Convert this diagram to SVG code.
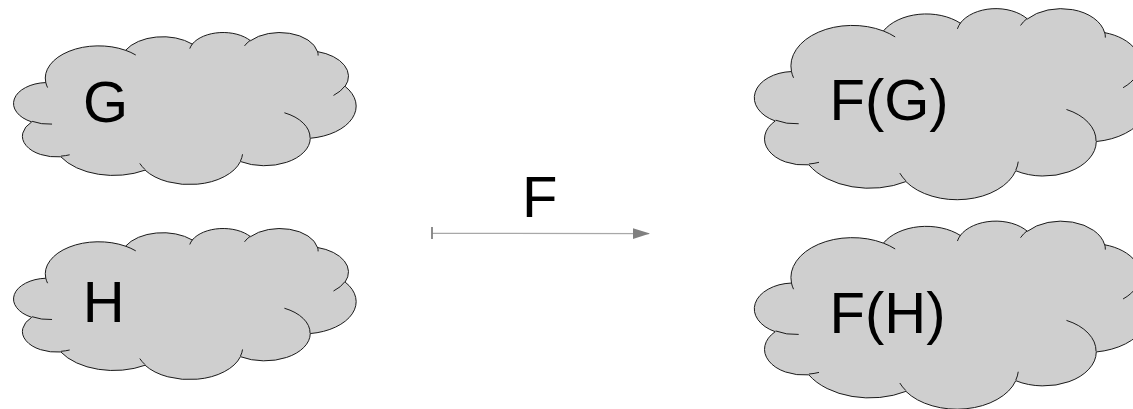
<svg xmlns="http://www.w3.org/2000/svg" xmlns:xlink="http://www.w3.org/1999/xlink" width="1133" height="409" viewBox="0 0 1133 409">
  <style>
    .cloud { fill: #cfcfcf; stroke: #1a1a1a; stroke-width: 1; vector-effect: non-scaling-stroke; }
    .stub { fill: none; stroke: #1a1a1a; stroke-width: 1; vector-effect: non-scaling-stroke; }
    .lbl { font-family: "Liberation Sans", Arial, sans-serif; font-size: 58px; fill: #000; }
    .conn { stroke: #a8a8a8; stroke-width: 1.3; fill: none; }
  </style>
  <defs>
    <path id="cloudBody" class="cloud" d="M3900 14370 A6753 9190 0 0 1 14005 5202 A5333 7267 0 0 1 22456 3432 A4365 5945 0 0 1 29833 2480 A4857 6595 0 0 1 38319 5576 A5333 7273 0 0 1 41819 15459 A6775 9220 0 0 1 37405 30203 A5785 7867 0 0 1 28557 36813 A6752 9215 0 0 1 16481 39263 A7720 10543 0 0 1 5805 35469 A4360 5918 0 0 1 2114 25548 A4345 5945 0 0 1 3900 14370 Z"/>
    <path id="cloudStubs" class="stub" d="M4693 26177 A4345 5945 0 0 1 2160 25380 M6928 34899 A4360 5918 0 0 1 5820 35281 M16478 39090 A6752 9215 0 0 1 15811 37350 M28827 34751 A6752 9215 0 0 1 28560 36660 M34129 22954 A5785 7867 0 0 1 37380 30090 M41798 15354 A5333 7273 0 0 1 40350 18030 M38324 5426 A4857 6595 0 0 1 38400 6690 M29078 3952 A4857 6595 0 0 1 29820 2341 M22141 4720 A4365 5945 0 0 1 22500 3330 M14000 5192 A6753 9190 0 0 1 15300 6540 M4127 15789 A6753 9190 0 0 1 3900 14370"/>
    <marker id="arrowEnd" markerWidth="17" markerHeight="11" refX="16" refY="5.4" orient="auto" markerUnits="userSpaceOnUse">
      <path d="M0 0 L17 5.4 L0 10.8 Z" fill="#808080"/>
    </marker>
  </defs>

  <g id="node-G">
    <g transform="translate(15,32) scale(0.0078935,0.0035185)">
      <use xlink:href="#cloudBody"/>
      <use xlink:href="#cloudStubs"/>
    </g>
    <text class="lbl" x="83" y="122">G</text>
  </g>

  <g id="node-H">
    <g transform="translate(15,228) scale(0.0078935,0.0034954)">
      <use xlink:href="#cloudBody"/>
      <use xlink:href="#cloudStubs"/>
    </g>
    <text class="lbl" x="82.7" y="321.7">H</text>
  </g>

  <g id="node-FG">
    <g transform="translate(756,8) scale(0.0090972,0.0044213)">
      <use xlink:href="#cloudBody"/>
      <use xlink:href="#cloudStubs"/>
    </g>
    <text class="lbl" x="829.5" y="120">F(G)</text>
  </g>

  <g id="node-FH">
    <g transform="translate(756,220.5) scale(0.0090972,0.0043519)">
      <use xlink:href="#cloudBody"/>
      <use xlink:href="#cloudStubs"/>
    </g>
    <text class="lbl" x="829.5" y="333">F(H)</text>
  </g>

  <g id="connectors">
    <line class="conn" x1="432" y1="233.4" x2="649" y2="233.6" marker-end="url(#arrowEnd)"/>
    <line x1="432" y1="227" x2="432" y2="239" stroke="#808080" stroke-width="1.8"/>
    <text class="lbl" x="522" y="216.7">F</text>
  </g>
</svg>
